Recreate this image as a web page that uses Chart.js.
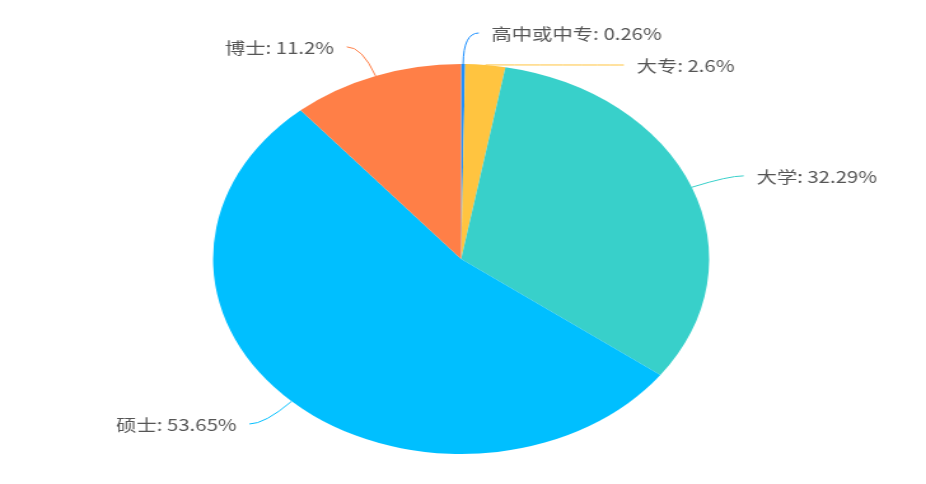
<!DOCTYPE html>
<html>
<head>
<meta charset="utf-8">
<script src="https://cdn.jsdelivr.net/npm/chart.js@4.4.1/dist/chart.umd.min.js"></script>
<style>
    html, body { margin: 0; padding: 0; background: #fff; overflow: hidden; }
    #wrap {
        position: absolute; left: 0; top: 0;
        width: 728px; height: 484px;
        transform: scaleX(1.272);
        transform-origin: 0 0;
    }
</style>
</head>
<body>
<div id="wrap"><canvas id="edu-chart"></canvas></div>
<script>
// education levels, clockwise from the top
const categories = ['高中或中专', '大专', '大学', '硕士', '博士'];
const percents = [0.26, 2.6, 32.29, 53.65, 11.2];
const colors = ['#1E90FF', '#FFC440', '#38D0CA', '#00BFFF', '#FF7F47'];

const LINE1 = 31;   // radial part of the leader line
const LINE2 = 12;   // horizontal part
const MIN_GAP = 32;

// draws leader lines + labels outside the pie, like echarts
const outsideLabels = {
    id: 'outsideLabels',
    afterDatasetsDraw(chart) {
        const ctx = chart.ctx;
        const arcs = chart.getDatasetMeta(0).data;
        const items = arcs.map((arc, i) => {
            const mid = (arc.startAngle + arc.endAngle) / 2;
            const cos = Math.cos(mid), sin = Math.sin(mid);
            const r = arc.outerRadius;
            return {
                i, cos, sin, cx: arc.x, cy: arc.y, r,
                x0: arc.x + cos * r, y0: arc.y + sin * r,
                y1: arc.y + sin * (r + LINE1),
                right: cos >= 0
            };
        });

        // push overlapping labels apart on each side
        [true, false].forEach(side => {
            const list = items.filter(it => it.right === side).sort((a, b) => a.y1 - b.y1);
            for (let k = 1; k < list.length; k++) {
                if (list[k].y1 - list[k - 1].y1 < MIN_GAP) {
                    list[k].y1 = list[k - 1].y1 + MIN_GAP;
                }
            }
        });

        ctx.save();
        ctx.font = '16px "Noto Sans CJK SC", "Noto Sans", sans-serif';
        ctx.textBaseline = 'middle';
        items.forEach(it => {
            const R = it.r + LINE1;
            const dy = it.y1 - it.cy;
            const dx = Math.sqrt(Math.max(R * R - dy * dy, 0));
            const dir = it.right ? 1 : -1;
            const x1 = it.cx + dir * dx;
            const x2 = x1 + dir * LINE2;

            ctx.strokeStyle = colors[it.i];
            ctx.lineWidth = 1;
            ctx.beginPath();
            ctx.moveTo(it.x0, it.y0);
            ctx.quadraticCurveTo(x1, it.y1, x2, it.y1);
            ctx.stroke();

            ctx.fillStyle = '#555';
            ctx.textAlign = it.right ? 'left' : 'right';
            ctx.fillText(categories[it.i] + ': ' + percents[it.i] + '%', x2 + dir * 10, it.y1 + 1);
        });
        ctx.restore();
    }
};

const chart = new Chart(document.getElementById('edu-chart').getContext('2d'), {
    type: 'pie',
    data: {
        labels: categories,
        datasets: [{
            data: percents,
            backgroundColor: colors,
            borderWidth: 0
        }]
    },
    options: {
        responsive: true,
        maintainAspectRatio: false,
        animation: false,
        layout: { padding: { top: 64, bottom: 30, left: 0, right: 3 } },
        plugins: {
            legend: { display: false },
            tooltip: { enabled: false }
        }
    },
    plugins: [outsideLabels]
});
</script>
</body>
</html>
